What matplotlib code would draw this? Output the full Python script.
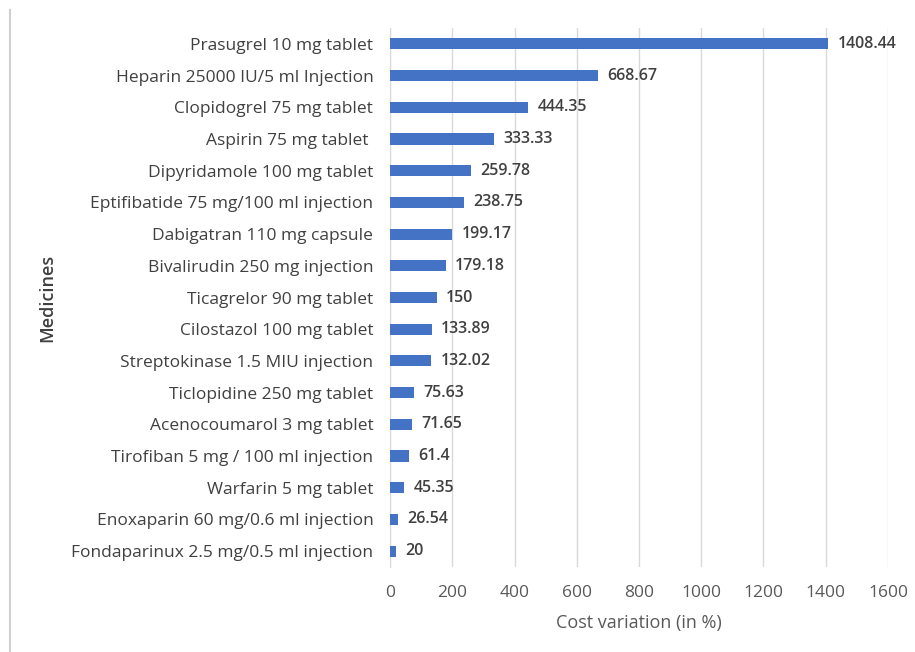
import matplotlib
matplotlib.use("Agg")
import matplotlib.pyplot as plt
from matplotlib.lines import Line2D

plt.rcParams['font.family'] = ['Open Sans', 'DejaVu Sans']

# medicines, top to bottom
medicines = [
    "Prasugrel 10 mg tablet",
    "Heparin 25000 IU/5 ml Injection",
    "Clopidogrel 75 mg tablet",
    "Aspirin 75 mg tablet ",
    "Dipyridamole 100 mg tablet",
    "Eptifibatide 75 mg/100 ml injection",
    "Dabigatran 110 mg capsule",
    "Bivalirudin 250 mg injection",
    "Ticagrelor 90 mg tablet",
    "Cilostazol 100 mg tablet",
    "Streptokinase 1.5 MIU injection",
    "Ticlopidine 250 mg tablet",
    "Acenocoumarol 3 mg tablet",
    "Tirofiban 5 mg / 100 ml injection",
    "Warfarin 5 mg tablet",
    "Enoxaparin 60 mg/0.6 ml injection",
    "Fondaparinux 2.5 mg/0.5 ml injection",
]
cost_variation = [1408.44, 668.67, 444.35, 333.33, 259.78, 238.75, 199.17,
                  179.18, 150, 133.89, 132.02, 75.63, 71.65, 61.4, 45.35,
                  26.54, 20]
value_labels = ["1408.44", "668.67", "444.35", "333.33", "259.78", "238.75",
                "199.17", "179.18", "150", "133.89", "132.02", "75.63",
                "71.65", "61.4", "45.35", "26.54", "20"]
x_ticks = [0, 200, 400, 600, 800, 1000, 1200, 1400, 1600]

fig = plt.figure(figsize=(9.15, 6.52), dpi=100)
ax = fig.add_axes([390 / 915, 1 - 567 / 652, (888 - 390) / 915, (567 - 28) / 652])

ypos = list(range(len(medicines)))
ax.barh(ypos, cost_variation, height=0.35, color="#4472C4", zorder=3)
for y, v, lab in zip(ypos, cost_variation, value_labels):
    ax.text(v + 30, y, lab, va="center", ha="left", fontsize=11.5,
            fontweight="semibold", color="#404040", zorder=4)

ax.set_ylim(len(medicines) - 0.5, -0.5)
ax.set_yticks(ypos)
ax.set_yticklabels(medicines, fontsize=12.5, color="#404040")
ax.set_xlim(0, 1600)
ax.set_xticks(x_ticks)
ax.set_xticklabels([str(t) for t in x_ticks], fontsize=12.5, color="#595959")
ax.tick_params(axis="both", length=0)
ax.tick_params(axis="y", pad=12)
ax.tick_params(axis="x", pad=13)

ax.grid(axis="x", color="#d9d9d9", linewidth=1, zorder=0)
for s in ["top", "right", "bottom"]:
    ax.spines[s].set_visible(False)
ax.spines["left"].set_color("#d9d9d9")

ax.set_xlabel("Cost variation (in %)", fontsize=13, color="#595959", labelpad=9)
fig.text(47 / 915, 1 - 298 / 652, "Medicines", rotation=90, ha="center",
         va="center", fontsize=13, fontweight="semibold", color="#404040")

# thin gray rule down the left edge of the chart
fig.add_artist(Line2D([10 / 915, 10 / 915], [0, 1 - 10 / 652], color="#d0d0d0",
                      linewidth=1.5, transform=fig.transFigure))

fig.savefig("out.png", dpi=100)
